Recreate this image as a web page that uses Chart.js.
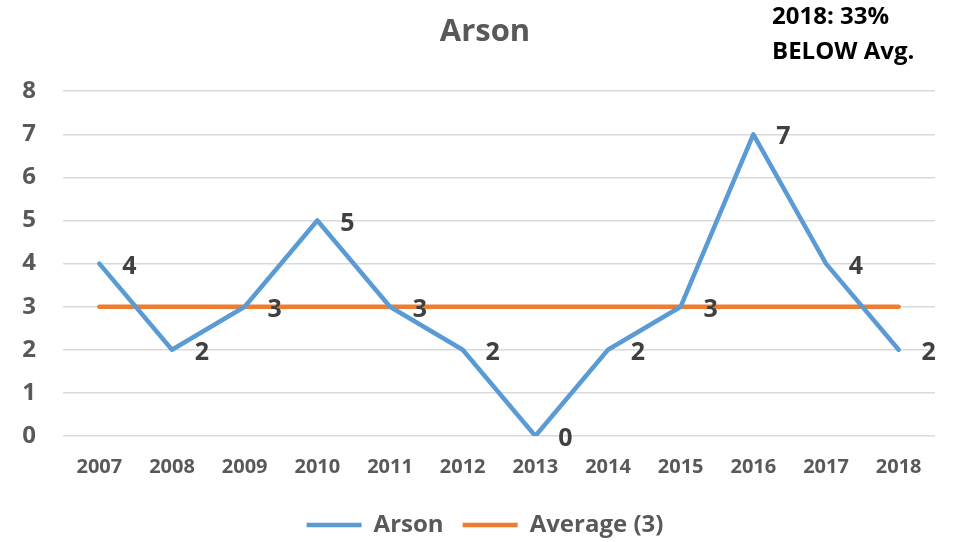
<!DOCTYPE html>
<html>
<head>
<meta charset="utf-8">
<script src="https://cdn.jsdelivr.net/npm/chart.js@4/dist/chart.umd.min.js"></script>
<style>
html,body{margin:0;padding:0;background:#fff;}
#wrap{width:970px;height:542px;position:relative;}
</style>
</head>
<body>
<div id="wrap"><canvas id="c" width="970" height="542"></canvas></div>
<script>
const years = ['2007','2008','2009','2010','2011','2012','2013','2014','2015','2016','2017','2018'];
const arson = [4,2,3,5,3,2,0,2,3,7,4,2];
const average = [3,3,3,3,3,3,3,3,3,3,3,3];
const titleText = 'Arson';
const noteLines = ['2018: 33%','BELOW Avg.'];

const FONT = "'Open Sans', sans-serif";
const GREY = '#595959';

const labelPlugin = {
  id: 'pointLabels',
  afterDatasetsDraw(chart) {
    const ctx = chart.ctx;
    const meta = chart.getDatasetMeta(0);
    ctx.save();
    ctx.font = "bold 25px " + FONT;
    ctx.fillStyle = '#404040';
    ctx.textAlign = 'center';
    ctx.textBaseline = 'middle';
    meta.data.forEach((pt, i) => {
      ctx.fillText(String(arson[i]), pt.x + 30, pt.y + 3);
    });
    ctx.restore();
  },
  afterDraw(chart) {
    const ctx = chart.ctx;
    ctx.save();
    ctx.font = "bold 24px " + FONT;
    ctx.fillStyle = '#000';
    ctx.textAlign = 'left';
    ctx.textBaseline = 'middle';
    noteLines.forEach((t, i) => ctx.fillText(t, 772, 17 + i * 35));
    ctx.restore();
  }
};

new Chart(document.getElementById('c'), {
  type: 'line',
  data: {
    labels: years,
    datasets: [
      {
        label: 'Arson',
        data: arson,
        borderColor: '#5B9BD5',
        backgroundColor: '#5B9BD5',
        borderWidth: 4.5,
        pointRadius: 0,
        tension: 0,
        borderCapStyle: 'round',
        borderJoinStyle: 'round'
      },
      {
        label: 'Average (3)',
        data: average,
        borderColor: '#ED7D31',
        backgroundColor: '#ED7D31',
        borderWidth: 4.5,
        pointRadius: 0,
        tension: 0,
        borderCapStyle: 'round'
      }
    ]
  },
  options: {
    responsive: false,
    animation: false,
    layout: { padding: { left: 0, right: 0, top: 0, bottom: -5 } },
    plugins: {
      title: {
        display: true,
        text: titleText,
        color: GREY,
        font: { family: FONT, size: 31, weight: 'bold' },
        padding: { top: 14, bottom: 40 }
      },
      legend: {
        position: 'bottom',
        labels: {
          color: GREY,
          font: { family: FONT, size: 24, weight: 'bold' },
          usePointStyle: true,
          pointStyle: 'line',
          pointStyleWidth: 55,
          boxHeight: 5,
          padding: 19
        }
      },
      tooltip: { enabled: false }
    },
    scales: {
      x: {
        offset: true,
        grid: { display: false, drawTicks: false },
        border: { display: false },
        ticks: {
          color: GREY,
          font: { family: FONT, size: 20, weight: 'bold' },
          padding: 19,
          maxRotation: 0,
          autoSkip: false
        },
        afterFit(s) { s.height = 58; }
      },
      y: {
        min: 0,
        max: 8,
        position: 'left',
        grid: { color: '#D9D9D9', lineWidth: 1.5, drawTicks: false },
        border: { display: false },
        ticks: {
          stepSize: 1,
          color: GREY,
          font: { family: FONT, size: 24, weight: 'bold' },
          padding: 27
        },
        afterFit(s) { s.width = 63; }
      },
      yr: {
        position: 'right',
        display: true,
        min: 0, max: 8,
        grid: { display: false, drawTicks: false },
        border: { display: false },
        ticks: { display: false },
        afterFit(s) { s.width = 35; }
      }
    }
  },
  plugins: [labelPlugin]
});
</script>
</body>
</html>
